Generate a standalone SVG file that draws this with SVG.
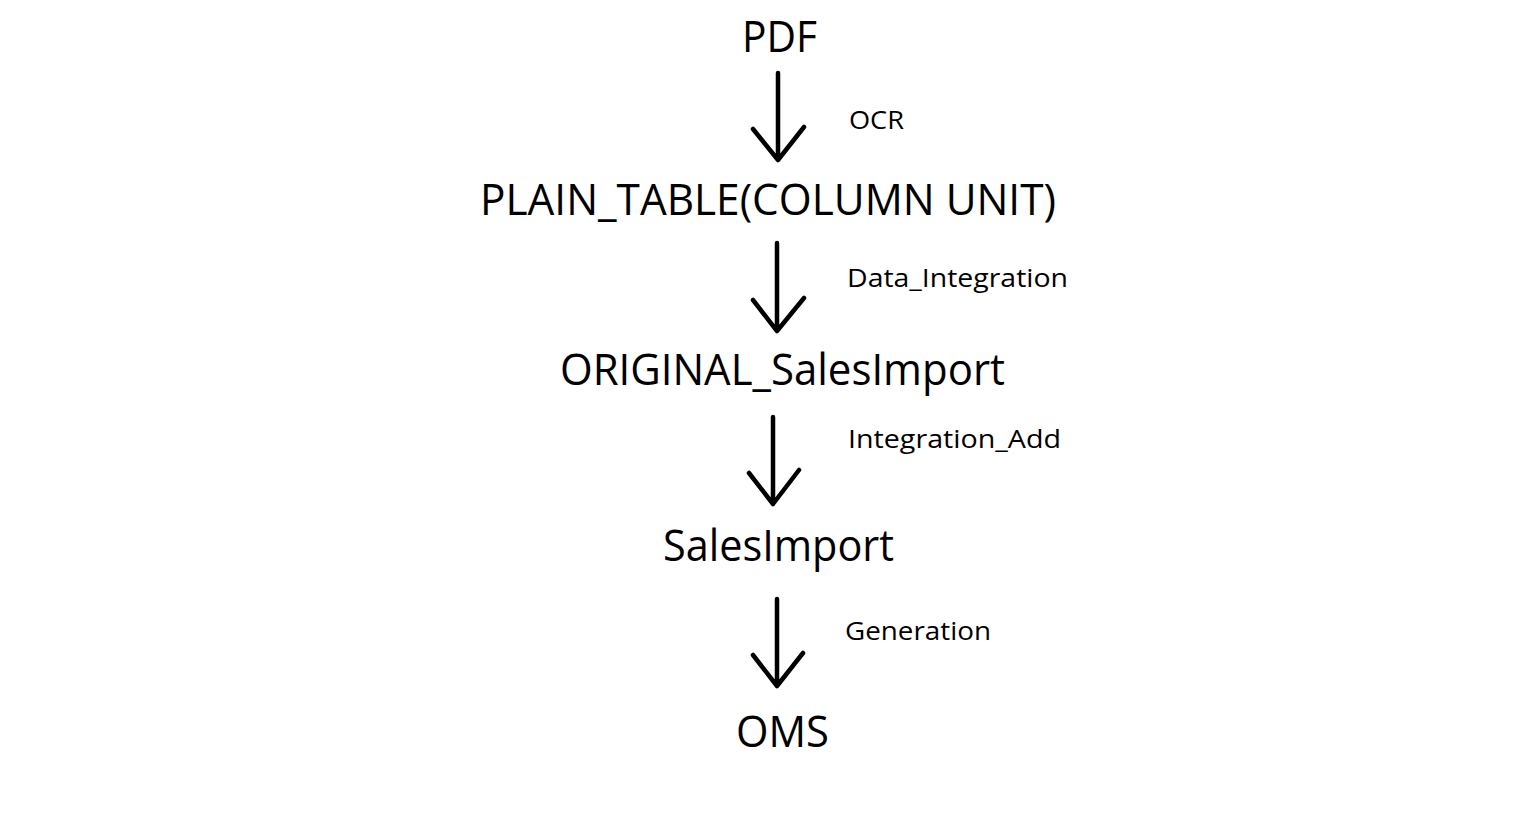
<svg xmlns="http://www.w3.org/2000/svg" width="1533" height="837" viewBox="0 0 1533 837">
<style>
.big{font-family:"Open Sans","Noto Sans","Liberation Sans",sans-serif;font-size:44px;fill:#000}
.lbl{font-family:"Open Sans","Noto Sans","Liberation Sans",sans-serif;font-size:26px;fill:#000}
.arr{fill:none;stroke:#000;stroke-width:4.5;stroke-linecap:round;stroke-linejoin:round}
</style>
<rect width="1533" height="837" fill="#fff"/>
<g id="pdf"><text class="big" x="742" y="52" textLength="75" lengthAdjust="spacingAndGlyphs">PDF</text></g>
<g id="plain_table"><text class="big" x="480" y="215" textLength="576" lengthAdjust="spacingAndGlyphs">PLAIN_TABLE(COLUMN UNIT)</text></g>
<g id="original_salesimport"><text class="big" x="560" y="385" textLength="445" lengthAdjust="spacingAndGlyphs">ORIGINAL_SalesImport</text></g>
<g id="salesimport"><text class="big" x="663" y="561" textLength="231" lengthAdjust="spacingAndGlyphs">SalesImport</text></g>
<g id="oms"><text class="big" x="736" y="747" textLength="93" lengthAdjust="spacingAndGlyphs">OMS</text></g>
<g id="connectors">
<path class="arr" d="M778,73 V160 M753,129 L778,160 L804,127"/>
<path class="arr" d="M777,243 V331 M753,300 L777,331 L804,298"/>
<path class="arr" d="M773,417 V504 M749,473 L773,504 L799,470"/>
<path class="arr" d="M777,599 V686 M753,655 L777,686 L803,653"/>
<text class="lbl" x="849" y="129" textLength="55" lengthAdjust="spacingAndGlyphs">OCR</text>
<text class="lbl" x="847" y="287" textLength="221" lengthAdjust="spacingAndGlyphs">Data_Integration</text>
<text class="lbl" x="848" y="448" textLength="213" lengthAdjust="spacingAndGlyphs">Integration_Add</text>
<text class="lbl" x="845" y="640" textLength="146" lengthAdjust="spacingAndGlyphs">Generation</text>
</g>
</svg>
